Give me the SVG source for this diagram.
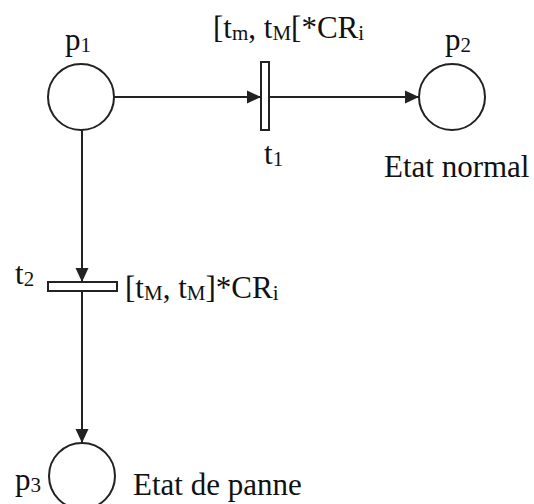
<svg xmlns="http://www.w3.org/2000/svg" width="534" height="504" viewBox="0 0 534 504">
<style>
.pl{fill:#fff;stroke:#222;stroke-width:2}
.tr{fill:#fff;stroke:#222;stroke-width:2}
.cn{fill:none;stroke:#222;stroke-width:2}
text{font-family:"Liberation Serif","Times New Roman",serif;font-size:31px;fill:#111}
.s{font-size:21px;baseline-shift:-2px}
</style>
<defs>
<marker id="ah" markerUnits="userSpaceOnUse" markerWidth="15" markerHeight="15" refX="14" refY="7" orient="auto">
<path d="M0,0.5 L14,7 L0,13.5 Z" fill="#222"/>
</marker>
</defs>
<g id="connectors">
<line class="cn" x1="114" y1="97" x2="261" y2="97" marker-end="url(#ah)"/>
<line class="cn" x1="269" y1="97" x2="419" y2="97" marker-end="url(#ah)"/>
<line class="cn" x1="82" y1="130" x2="82" y2="282" marker-end="url(#ah)"/>
<line class="cn" x1="82" y1="291" x2="82" y2="443" marker-end="url(#ah)"/>
</g>
<g id="p1">
<circle class="pl" cx="81" cy="97" r="33"/>
<text x="65" y="50">p<tspan class="s">1</tspan></text>
</g>
<g id="p2">
<circle class="pl" cx="452" cy="97" r="33"/>
<text x="445" y="50">p<tspan class="s">2</tspan></text>
<text x="384" y="177">Etat normal</text>
</g>
<g id="p3">
<circle class="pl" cx="82" cy="476" r="33"/>
<text x="15" y="490">p<tspan class="s">3</tspan></text>
<text x="133" y="495">Etat de panne</text>
</g>
<g id="t1">
<rect class="tr" x="261" y="62" width="8" height="68"/>
<text x="213" y="38">[t<tspan class="s">m</tspan>, t<tspan class="s">M</tspan>[*CR<tspan class="s">i</tspan></text>
<text x="264" y="164">t<tspan class="s">1</tspan></text>
</g>
<g id="t2">
<rect class="tr" x="48" y="282" width="69" height="9"/>
<text x="15" y="284">t<tspan class="s">2</tspan></text>
<text x="125" y="298">[t<tspan class="s">M</tspan>, t<tspan class="s">M</tspan>]*CR<tspan class="s">i</tspan></text>
</g>
</svg>
